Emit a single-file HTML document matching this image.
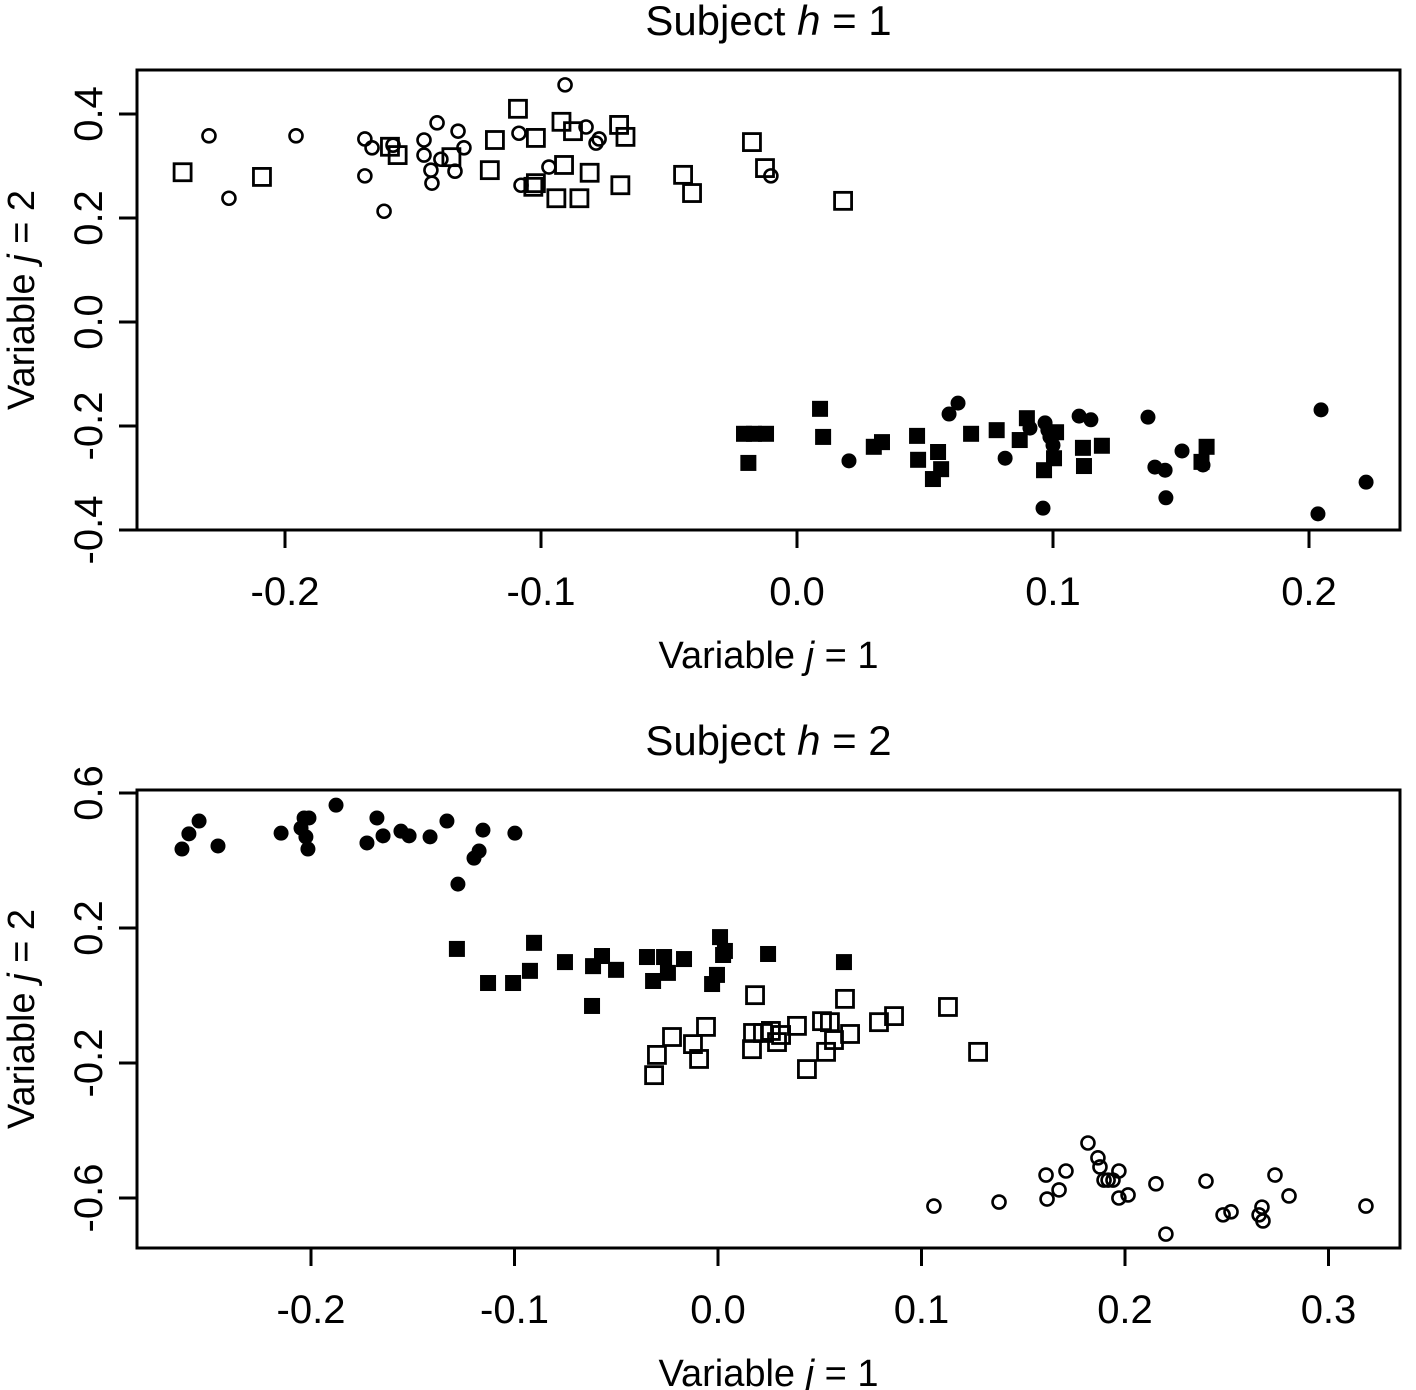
<!DOCTYPE html>
<html><head><meta charset="utf-8"><style>
html,body{margin:0;padding:0;background:#fff;}
svg{display:block;font-family:"Liberation Sans",Arial,sans-serif;}
</style></head><body>
<svg id="chart" width="1416" height="1390" viewBox="0 0 1416 1390"></svg>
<script>
// ---- Panel 1 data (Subject h = 1) ----
const p1OpenCircX=[-0.2297,-0.2219,-0.1957,-0.1688,-0.1688,-0.1660,-0.1613,-0.1578,-0.1457,-0.1457,-0.1430,-0.1426,-0.1406,-0.1391,-0.1336,-0.1324,-0.1301,-0.1086,-0.1078,-0.0969,-0.0906,-0.0824,-0.0785,-0.0773,-0.0102];
const p1OpenCircY=[0.358,0.238,0.358,0.352,0.281,0.335,0.213,0.340,0.350,0.321,0.292,0.267,0.383,0.313,0.290,0.367,0.335,0.363,0.263,0.298,0.456,0.375,0.344,0.352,0.281];
const p1OpenSqX=[-0.240,-0.209,-0.159,-0.156,-0.135,-0.120,-0.118,-0.109,-0.102,-0.102,-0.103,-0.094,-0.092,-0.091,-0.0875,-0.085,-0.081,-0.069,-0.0695,-0.067,-0.0445,-0.041,-0.0176,-0.0125,0.018];
const p1OpenSqY=[0.288,0.279,0.337,0.321,0.317,0.292,0.350,0.410,0.354,0.267,0.260,0.238,0.385,0.302,0.367,0.238,0.287,0.263,0.379,0.356,0.283,0.248,0.346,0.296,0.233];
const p1FillSqX=[-0.0207,-0.019,-0.0168,-0.0121,0.009,0.0102,0.030,0.0332,0.0469,0.0473,0.0531,0.0551,0.0563,0.068,0.078,0.087,0.0898,0.0965,0.1004,0.1012,0.1117,0.1121,0.1191,0.160,0.158];
const p1FillSqY=[-0.215,-0.271,-0.215,-0.215,-0.167,-0.221,-0.240,-0.231,-0.219,-0.265,-0.302,-0.250,-0.283,-0.215,-0.208,-0.227,-0.185,-0.285,-0.262,-0.212,-0.242,-0.277,-0.238,-0.240,-0.269];
const p1FillCircX=[0.0203,0.0594,0.0629,0.0813,0.0961,0.0969,0.0988,0.1,0.1102,0.1148,0.1371,0.1398,0.1438,0.1441,0.1504,0.1586,0.2047,0.2035,0.2223,0.091,0.098];
const p1FillCircY=[-0.267,-0.177,-0.156,-0.262,-0.358,-0.194,-0.221,-0.237,-0.181,-0.188,-0.183,-0.279,-0.285,-0.338,-0.248,-0.275,-0.169,-0.369,-0.308,-0.204,-0.208];
const p1XTicks=[-0.2,-0.1,0.0,0.1,0.2];
const p1XLabels=["-0.2","-0.1","0.0","0.1","0.2"];
const p1YTicks=[-0.4,-0.2,0.0,0.2,0.4];
const p1YLabels=["-0.4","-0.2","0.0","0.2","0.4"];

// ---- Panel 2 data (Subject h = 2) ----
const p2FillCircX=[-0.2634,-0.260,-0.255,-0.2457,-0.2147,-0.2049,-0.2034,-0.2025,-0.2015,-0.1877,-0.1725,-0.1676,-0.1646,-0.1558,-0.1518,-0.1415,-0.1332,-0.1278,-0.1199,-0.1174,-0.1155,-0.0998,-0.2010];
const p2FillCircY=[0.434,0.479,0.517,0.443,0.481,0.496,0.526,0.470,0.434,0.564,0.452,0.526,0.473,0.487,0.473,0.470,0.517,0.330,0.407,0.428,0.490,0.481,0.526];
const p2FillSqX=[-0.1283,-0.113,-0.1007,-0.0924,-0.0904,-0.0752,-0.0619,-0.0614,-0.057,-0.0501,-0.0349,-0.0319,-0.0265,-0.0246,-0.0167,-0.0029,-0.0005,0.001,0.0034,0.0246,0.0619,0.0025];
const p2FillSqY=[0.138,0.037,0.037,0.073,0.156,0.099,-0.031,0.087,0.117,0.076,0.114,0.043,0.114,0.067,0.108,0.034,0.061,0.173,0.132,0.123,0.099,0.120];
const p2OpenSqX=[-0.0314,-0.030,-0.0226,-0.0123,-0.0093,-0.0059,0.0167,0.0182,0.0172,0.0221,0.026,0.029,0.031,0.0388,0.0437,0.0511,0.0531,0.055,0.057,0.0624,0.0649,0.0791,0.0865,0.113,0.1278];
const p2OpenSqY=[-0.236,-0.176,-0.123,-0.144,-0.188,-0.093,-0.159,0.001,-0.111,-0.111,-0.105,-0.138,-0.117,-0.090,-0.218,-0.076,-0.167,-0.079,-0.132,-0.010,-0.114,-0.079,-0.061,-0.034,-0.167];
const p2OpenCircX=[0.1061,0.1381,0.1612,0.1617,0.1676,0.171,0.1818,0.1867,0.1877,0.1897,0.1917,0.1941,0.197,0.197,0.2015,0.2152,0.2201,0.2398,0.2482,0.2521,0.2659,0.2673,0.2678,0.2737,0.2806,0.3184];
const p2OpenCircY=[-0.624,-0.612,-0.532,-0.603,-0.576,-0.520,-0.437,-0.481,-0.508,-0.547,-0.547,-0.547,-0.520,-0.600,-0.591,-0.558,-0.707,-0.550,-0.650,-0.641,-0.650,-0.627,-0.668,-0.532,-0.594,-0.624];
const p2XTicks=[-0.2,-0.1,0.0,0.1,0.2,0.3];
const p2XLabels=["-0.2","-0.1","0.0","0.1","0.2","0.3"];
const p2YTicks=[-0.6,-0.2,0.2,0.6];
const p2YLabels=["-0.6","-0.2","0.2","0.6"];

const NS="http://www.w3.org/2000/svg";
const svg=document.getElementById('chart');
function mk(tag,attrs,parent){const e=document.createElementNS(NS,tag);for(const k in attrs)e.setAttribute(k,attrs[k]);(parent||svg).appendChild(e);return e;}

function panel(cfg){
  const g=mk('g',{});
  
  
  const sx=v=>cfg.x0px+(v-cfg.x0)*cfg.xs;
  const sy=v=>cfg.y0px-(v-cfg.y0)*cfg.ys;
  const box=mk('rect',{x:cfg.L,y:cfg.T,width:cfg.R-cfg.L,height:cfg.B-cfg.T,fill:'none',stroke:'#000','stroke-width':3},g);
  
  
  const title=mk('text',{x:(cfg.L+cfg.R)/2,y:cfg.T-35,'text-anchor':'middle','font-size':42},g);
  
  
  title.innerHTML='Subject <tspan font-style="italic">h</tspan> = '+cfg.h;
  cfg.xt.forEach((t,i)=>{
    const x=sx(t);
    mk('line',{x1:x,x2:x,y1:cfg.B,y2:cfg.B+18,stroke:'#000','stroke-width':3},g);
    const tx=mk('text',{x:x,y:cfg.B+75,'text-anchor':'middle','font-size':40},g);
    
    
    tx.textContent=cfg.xl[i];
  });
  cfg.yt.forEach((t,i)=>{
    const y=sy(t);
    mk('line',{x1:cfg.L,x2:cfg.L-18,y1:y,y2:y,stroke:'#000','stroke-width':3},g);
    const ty=mk('text',{x:0,y:0,'text-anchor':'middle','font-size':40,transform:`translate(102,${y}) rotate(-90)`},g);
    
    
    ty.textContent=cfg.yl[i];
  });
  const xl=mk('text',{x:(cfg.L+cfg.R)/2,y:cfg.B+138,'text-anchor':'middle','font-size':38},g);
  
  
  xl.innerHTML='Variable <tspan font-style="italic">j</tspan> = 1';
  const yl=mk('text',{x:0,y:0,'text-anchor':'middle','font-size':38,transform:`translate(34,${(cfg.T+cfg.B)/2}) rotate(-90)`},g);
  
  
  yl.innerHTML='Variable <tspan font-style="italic">j</tspan> = 2';
  function pts(xs,ys,kind){
    xs.forEach((v,i)=>{
      const x=sx(v),y=sy(ys[i]);let e;
      if(kind==='oc'){e=mk('circle',{cx:x,cy:y,r:6.5,fill:'none',stroke:'#000','stroke-width':2.6},g);}
      else if(kind==='fc'){e=mk('circle',{cx:x,cy:y,r:7.5,fill:'#000'},g);}
      else if(kind==='os'){e=mk('rect',{x:x-8.5,y:y-8.5,width:17,height:17,fill:'none',stroke:'#000','stroke-width':2.8},g);}
      else {e=mk('rect',{x:x-8,y:y-8,width:16,height:16,fill:'#000'},g);}
      
    });
  }
  cfg.series.forEach(s=>pts(s[0],s[1],s[2]));
}

panel({name:'panel-subject-1',h:1,L:137,R:1400,T:70,B:530,x0:0,x0px:797,xs:2560,y0:0,y0px:322,ys:520,
  xt:p1XTicks,xl:p1XLabels,yt:p1YTicks,yl:p1YLabels,
  series:[[p1OpenCircX,p1OpenCircY,'oc'],[p1OpenSqX,p1OpenSqY,'os'],[p1FillSqX,p1FillSqY,'fs'],[p1FillCircX,p1FillCircY,'fc']]});
panel({name:'panel-subject-2',h:2,L:137,R:1400,T:790,B:1248,x0:0,x0px:718,xs:2035,y0:0.2,y0px:928,ys:337.5,
  xt:p2XTicks,xl:p2XLabels,yt:p2YTicks,yl:p2YLabels,
  series:[[p2FillCircX,p2FillCircY,'fc'],[p2FillSqX,p2FillSqY,'fs'],[p2OpenSqX,p2OpenSqY,'os'],[p2OpenCircX,p2OpenCircY,'oc']]});
</script>
</body></html>
